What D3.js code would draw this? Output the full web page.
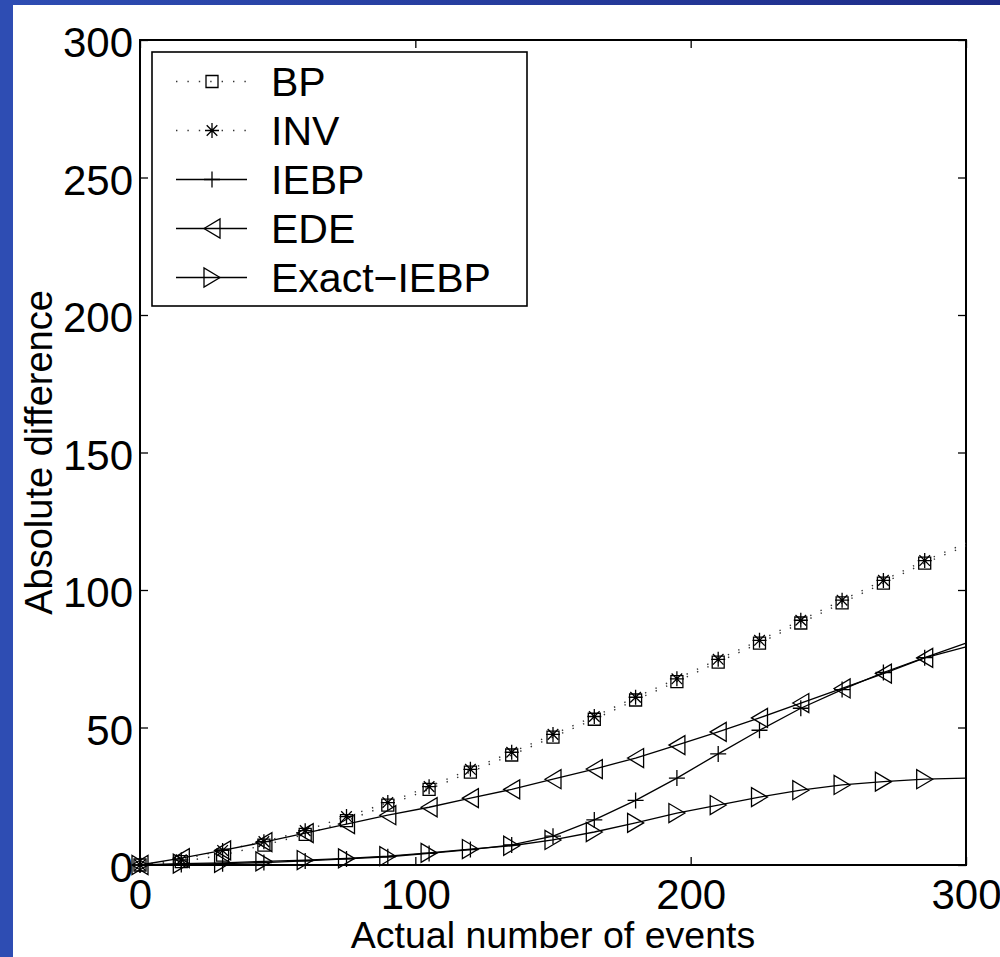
<!DOCTYPE html>
<html>
<head>
<meta charset="utf-8">
<script src="https://cdn.jsdelivr.net/npm/d3@7"></script>
<style>
  html, body { margin: 0; padding: 0; background: #fff; }
  svg { display: block; }
  text { font-family: "Liberation Sans", Arial, Helvetica, sans-serif; fill: #000; }
</style>
</head>
<body>
<svg id="chart" width="1000" height="957"></svg>
<script>
// Number of events along the x axis (one sample every 15 events, plus the end point)
const events = [0, 15, 30, 45, 60, 75, 90, 105, 120, 135, 150, 165, 180, 195, 210, 225, 240, 255, 270, 285, 300];

// Absolute difference per estimator
const bpValues    = [0, 1.2, 3.6, 7.2, 11.1, 16.1, 21.8, 27.5, 33.8, 40.0, 46.5, 53.0, 60.0, 66.7, 73.8, 80.7, 88.0, 95.3, 102.5, 109.8, 116.0];
const invValues   = [0, 1.9, 5.3, 8.5, 12.5, 17.6, 22.7, 28.5, 34.8, 41.0, 47.5, 54.0, 61.0, 67.7, 74.8, 81.7, 89.0, 96.3, 103.5, 110.7, 117.0];
const iebpValues  = [0, 0.2, 0.5, 0.9, 1.5, 2.2, 3.0, 4.2, 5.6, 7.3, 10.5, 16.4, 23.5, 31.6, 40.4, 49.0, 57.0, 63.8, 70.0, 75.4, 80.7];
const edeValues   = [0, 2.5, 5.3, 8.3, 11.6, 14.9, 18.1, 21.0, 24.3, 27.5, 31.2, 34.9, 38.9, 43.6, 48.4, 53.5, 58.9, 64.2, 69.6, 75.3, 79.3];
const exactValues = [0, 0.5, 0.8, 1.3, 1.8, 2.4, 3.2, 4.4, 5.8, 7.0, 9.1, 12.0, 15.3, 18.9, 21.8, 24.7, 27.2, 29.1, 30.3, 31.2, 31.6];

const seriesNames = ["BP", "INV", "IEBP", "EDE", "Exact\u2212IEBP"];
const seriesData  = [bpValues, invValues, iebpValues, edeValues, exactValues];
const seriesLine  = ["dotted", "dotted", "solid", "solid", "solid"];
const seriesMark  = ["square", "star", "plus", "triLeft", "triRight"];

// Axis ticks
const xTicks = [0, 100, 200, 300];
const yTicks = [0, 50, 100, 150, 200, 250, 300];

const svg = d3.select("#chart");
const W = 1000, H = 957;
const plot = { left: 140, right: 966, top: 40, bottom: 865 };

// Slide frame: blue band on the top and left edges
const defs = svg.append("defs");
const grad = defs.append("linearGradient").attr("id", "band").attr("x1", 0).attr("x2", 1).attr("y1", 0).attr("y2", 0);
grad.append("stop").attr("offset", 0).attr("stop-color", "#2e4db3");
grad.append("stop").attr("offset", 1).attr("stop-color", "#1e2c88");
svg.append("rect").attr("x", 0).attr("y", 0).attr("width", W).attr("height", H).attr("fill", "#fff");
svg.append("rect").attr("x", 0).attr("y", 0).attr("width", W).attr("height", 5).attr("fill", "url(#band)");
svg.append("rect").attr("x", 0).attr("y", 0).attr("width", 13).attr("height", H).attr("fill", "#2e4db3");

const x = d3.scaleLinear().domain([0, 300]).range([plot.left, plot.right]);
const y = d3.scaleLinear().domain([0, 300]).range([plot.bottom, plot.top]);

// Axes: inward ticks on all four sides
const tickLen = 8;
function styleAxis(g) {
  g.select(".domain").remove();
  g.selectAll(".tick line").attr("stroke", "#000").attr("stroke-width", 1.3);
}
svg.append("g").attr("transform", `translate(0,${plot.bottom})`)
  .call(d3.axisBottom(x).tickValues(xTicks).tickSizeInner(-tickLen).tickSizeOuter(0).tickPadding(14))
  .call(styleAxis)
  .call(g => g.selectAll("text").attr("font-size", 42).attr("font-family", "Liberation Sans, Arial, sans-serif"));
svg.append("g").attr("transform", `translate(0,${plot.top})`)
  .call(d3.axisTop(x).tickValues(xTicks).tickSizeInner(-tickLen).tickSizeOuter(0).tickFormat(""))
  .call(styleAxis);
svg.append("g").attr("transform", `translate(${plot.left},0)`)
  .call(d3.axisLeft(y).tickValues(yTicks).tickSizeInner(-tickLen).tickSizeOuter(0).tickPadding(7))
  .call(styleAxis)
  .call(g => g.selectAll("text").attr("font-size", 42).attr("dy", "0.4em").attr("font-family", "Liberation Sans, Arial, sans-serif"));
svg.append("g").attr("transform", `translate(${plot.right},0)`)
  .call(d3.axisRight(y).tickValues(yTicks).tickSizeInner(-tickLen).tickSizeOuter(0).tickFormat(""))
  .call(styleAxis);

// Plot frame
svg.append("rect")
  .attr("x", plot.left).attr("y", plot.top)
  .attr("width", plot.right - plot.left).attr("height", plot.bottom - plot.top)
  .attr("fill", "none").attr("stroke", "#000").attr("stroke-width", 2);

// Axis titles
svg.append("text")
  .attr("x", (plot.left + plot.right) / 2).attr("y", 948)
  .attr("text-anchor", "middle").attr("font-size", 37.5)
  .text("Actual number of events");
svg.append("text")
  .attr("transform", `translate(52,${(plot.top + plot.bottom) / 2}) rotate(-90)`)
  .attr("text-anchor", "middle").attr("font-size", 38)
  .text("Absolute difference");

// Marker shapes (unfilled, centred on the point)
function markerPath(kind) {
  switch (kind) {
    case "square":   return "M-6,-6H6V6H-6Z";
    case "star":     return "M-7,0H7M0,-7.5V7.5M-5.3,-5.3L5.3,5.3M-5.3,5.3L5.3,-5.3";
    case "plus":     return "M-8,0H8M0,-8V8";
    case "triLeft":  return "M-8,0L8,-9.5L8,9.5Z";
    case "triRight": return "M8,0L-8,-9.5L-8,9.5Z";
  }
}
function lineStyle(sel, style) {
  sel.attr("fill", "none").attr("stroke", "#000");
  if (style === "dotted") {
    sel.attr("stroke-width", 1.4).attr("stroke-dasharray", "1.4,10").attr("stroke", "#333");
  } else {
    sel.attr("stroke-width", 1.3);
  }
}

const line = d3.line().x(d => x(d[0])).y(d => y(d[1]));
const plotG = svg.append("g");

seriesData.forEach((vals, i) => {
  const pts = events.map((e, k) => [e, vals[k]]);
  plotG.append("path").datum(pts).attr("d", line).call(lineStyle, seriesLine[i]);
  // markers on every sample except the right-hand end point
  plotG.selectAll(null)
    .data(pts.filter(p => p[0] < 300))
    .join("path")
    .attr("transform", d => `translate(${x(d[0])},${y(d[1])})`)
    .attr("d", markerPath(seriesMark[i]))
    .attr("fill", "none").attr("stroke", "#000").attr("stroke-width", 1.3);
});

// Legend
const legend = { x: 152, y: 52, w: 375, h: 254, row0: 81.5, rowStep: 49 };
svg.append("rect")
  .attr("x", legend.x).attr("y", legend.y).attr("width", legend.w).attr("height", legend.h)
  .attr("fill", "#fff").attr("stroke", "#000").attr("stroke-width", 1.6);
seriesNames.forEach((name, i) => {
  const cy = legend.row0 + i * legend.rowStep;
  svg.append("path").attr("d", `M176,${cy}H247`).call(lineStyle, seriesLine[i]);
  svg.append("path").attr("transform", `translate(212,${cy})`).attr("d", markerPath(seriesMark[i]))
    .attr("fill", "none").attr("stroke", "#000").attr("stroke-width", 1.3);
  svg.append("text").attr("x", 271).attr("y", cy).attr("dy", "0.36em")
    .attr("font-size", 41).text(name);
});
</script>
</body>
</html>
